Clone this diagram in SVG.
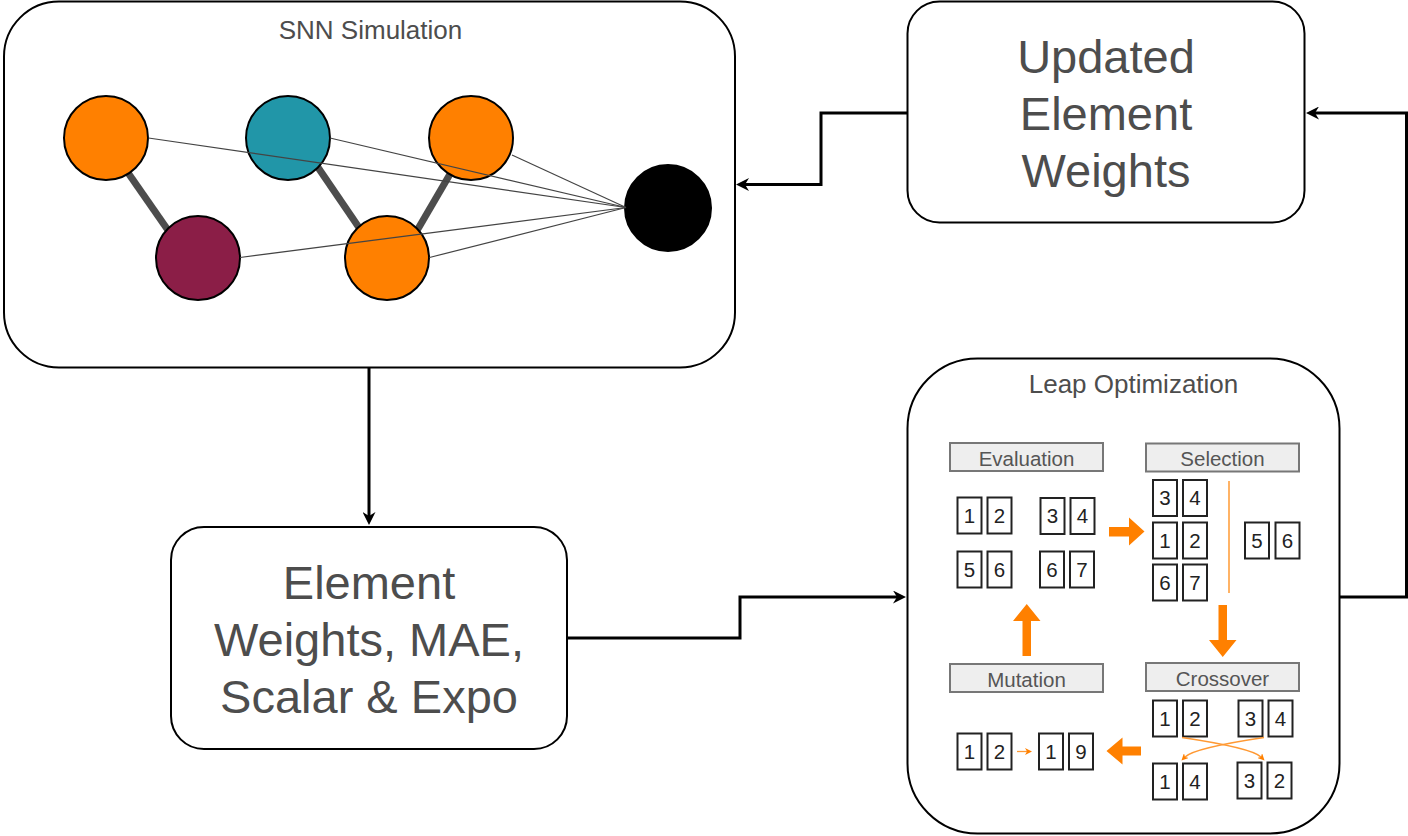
<svg xmlns="http://www.w3.org/2000/svg" width="1408" height="836" viewBox="0 0 1408 836">
  <style>
    .box { fill: #ffffff; stroke: #000000; stroke-width: 2; }
    .title { font-family: "Liberation Sans", Arial, sans-serif; font-size: 26px; fill: #4d4d4d; text-anchor: middle; }
    .big { font-family: "Liberation Sans", Arial, sans-serif; font-size: 47px; fill: #4d4d4d; text-anchor: middle; }
    .conn { fill: none; stroke: #000000; stroke-width: 3; }
    .thin { stroke: #444444; stroke-width: 1.2; }
    .thick { stroke: #4d4d4d; stroke-width: 7; }
    .neuron { stroke: #000000; stroke-width: 2; }
    .stage { fill: #eeeeee; stroke: #777777; stroke-width: 2; }
    .stage-t { font-family: "Liberation Sans", Arial, sans-serif; font-size: 20.5px; fill: #555555; text-anchor: middle; }
    .cell { fill: #ffffff; stroke: #222222; stroke-width: 2; }
    .num { font-family: "Liberation Sans", Arial, sans-serif; font-size: 20.5px; fill: #222222; text-anchor: middle; }
    .flow { fill: #ff8000; }
    .swap { fill: none; stroke: #ff9933; stroke-width: 1.5; }
  </style>
  <defs>
    <marker id="arrow" markerUnits="userSpaceOnUse" viewBox="0 0 13 13" refX="4" refY="6.5" markerWidth="13" markerHeight="13" orient="auto">
      <path d="M0,0 L13,6.5 L0,13 L4,6.5 Z" fill="#000000"/>
    </marker>
    <marker id="small" markerUnits="userSpaceOnUse" viewBox="0 0 7 7" refX="2" refY="3.5" markerWidth="7" markerHeight="7" orient="auto">
      <path d="M0,0 L7,3.5 L0,7 L2,3.5 Z" fill="#ff8000"/>
    </marker>
  </defs>

  <!-- SNN simulation panel -->
  <g id="snn-simulation">
    <rect class="box" x="4" y="1.5" width="731" height="366" rx="55" ry="55"/>
    <text class="title" x="370.5" y="38.5">SNN Simulation</text>
    <g id="snn-thick-links">
      <line class="thick" x1="124" y1="167" x2="172" y2="236"/>
      <line class="thick" x1="315" y1="163" x2="362" y2="232"/>
      <line class="thick" x1="453" y1="169" x2="415" y2="234"/>
    </g>
    <g id="snn-neurons">
      <circle class="neuron" cx="106" cy="138" r="42" fill="#ff8000"/>
      <circle class="neuron" cx="288" cy="138" r="42" fill="#2196a8"/>
      <circle class="neuron" cx="471" cy="138" r="42" fill="#ff8000"/>
      <circle class="neuron" cx="198" cy="258" r="42" fill="#8b1e47"/>
      <circle class="neuron" cx="387" cy="258" r="42" fill="#ff8000"/>
      <circle class="neuron" cx="668" cy="208" r="43" fill="#000000"/>
    </g>
    <g id="snn-thin-links">
      <line class="thin" x1="148.5" y1="138" x2="626" y2="207.5"/>
      <line class="thin" x1="330" y1="138" x2="626" y2="207.5"/>
      <line class="thin" x1="512" y1="155" x2="626" y2="207.5"/>
      <line class="thin" x1="240" y1="257.5" x2="626" y2="207.5"/>
      <line class="thin" x1="429.5" y1="257.5" x2="626" y2="207.5"/>
    </g>
  </g>

  <!-- Updated weights -->
  <g id="updated-weights">
    <rect class="box" x="907.5" y="1.5" width="397" height="221" rx="32" ry="32"/>
    <text class="big" x="1106" y="73">Updated</text>
    <text class="big" x="1106" y="130">Element</text>
    <text class="big" x="1106" y="187">Weights</text>
  </g>

  <!-- Element weights / metrics -->
  <g id="element-weights">
    <rect class="box" x="171" y="527" width="396" height="222" rx="33" ry="33"/>
    <text class="big" x="369" y="599">Element</text>
    <text class="big" x="369" y="656">Weights, MAE,</text>
    <text class="big" x="369" y="713">Scalar &amp; Expo</text>
  </g>

  <!-- Leap optimization panel -->
  <g id="leap-optimization">
    <rect class="box" x="907.5" y="358.5" width="432" height="475" rx="70" ry="70"/>
    <text class="title" x="1133.5" y="393">Leap Optimization</text>

    <g id="stage-evaluation">
      <rect class="stage" x="950" y="443" width="153" height="28"/>
      <text class="stage-t" x="1026.5" y="465.5">Evaluation</text>
      <rect class="cell" x="957.5" y="497.5" width="24" height="36"/><text class="num" x="969.5" y="522.8">1</text>
      <rect class="cell" x="987.5" y="497.5" width="24" height="36"/><text class="num" x="999.5" y="522.8">2</text>
      <rect class="cell" x="1040.5" y="498" width="24" height="36"/><text class="num" x="1052.5" y="523.3">3</text>
      <rect class="cell" x="1070.5" y="498" width="24" height="36"/><text class="num" x="1082.5" y="523.3">4</text>
      <rect class="cell" x="957.5" y="551.5" width="24" height="36"/><text class="num" x="969.5" y="576.8">5</text>
      <rect class="cell" x="987.5" y="551.5" width="24" height="36"/><text class="num" x="999.5" y="576.8">6</text>
      <rect class="cell" x="1040" y="551.5" width="24" height="36"/><text class="num" x="1052" y="576.8">6</text>
      <rect class="cell" x="1070" y="551.5" width="24" height="36"/><text class="num" x="1082" y="576.8">7</text>
    </g>

    <g id="stage-selection">
      <rect class="stage" x="1146" y="443.5" width="153" height="28"/>
      <text class="stage-t" x="1222.5" y="466">Selection</text>
      <rect class="cell" x="1153" y="480" width="24" height="36"/><text class="num" x="1165" y="505.3">3</text>
      <rect class="cell" x="1183" y="480" width="24" height="36"/><text class="num" x="1195" y="505.3">4</text>
      <rect class="cell" x="1153" y="522.5" width="24" height="36"/><text class="num" x="1165" y="547.8">1</text>
      <rect class="cell" x="1183" y="522.5" width="24" height="36"/><text class="num" x="1195" y="547.8">2</text>
      <rect class="cell" x="1153" y="564.5" width="24" height="36"/><text class="num" x="1165" y="589.8">6</text>
      <rect class="cell" x="1183" y="564.5" width="24" height="36"/><text class="num" x="1195" y="589.8">7</text>
      <line x1="1229" y1="481" x2="1229" y2="593" stroke="#ffb366" stroke-width="2"/>
      <rect class="cell" x="1245" y="522.5" width="24" height="36"/><text class="num" x="1257" y="547.8">5</text>
      <rect class="cell" x="1275.5" y="522.5" width="24" height="36"/><text class="num" x="1287.5" y="547.8">6</text>
    </g>

    <g id="stage-mutation">
      <rect class="stage" x="950" y="664" width="153" height="28"/>
      <text class="stage-t" x="1026.5" y="686.5">Mutation</text>
      <rect class="cell" x="957.5" y="733.5" width="24" height="36"/><text class="num" x="969.5" y="758.8">1</text>
      <rect class="cell" x="987.5" y="733.5" width="24" height="36"/><text class="num" x="999.5" y="758.8">2</text>
      <line x1="1017" y1="751.5" x2="1027" y2="751.5" stroke="#ff9933" stroke-width="1.3" marker-end="url(#small)"/>
      <rect class="cell" x="1039" y="733.5" width="24" height="36"/><text class="num" x="1051" y="758.8">1</text>
      <rect class="cell" x="1069" y="733.5" width="24" height="36"/><text class="num" x="1081" y="758.8">9</text>
    </g>

    <g id="stage-crossover">
      <rect class="stage" x="1146" y="663" width="153" height="28"/>
      <text class="stage-t" x="1222.5" y="685.5">Crossover</text>
      <rect class="cell" x="1153" y="700.5" width="24" height="36"/><text class="num" x="1165" y="725.8">1</text>
      <rect class="cell" x="1183" y="700.5" width="24" height="36"/><text class="num" x="1195" y="725.8">2</text>
      <rect class="cell" x="1238.5" y="700.5" width="24" height="36"/><text class="num" x="1250.5" y="725.8">3</text>
      <rect class="cell" x="1268.5" y="700.5" width="24" height="36"/><text class="num" x="1280.5" y="725.8">4</text>
      <path class="swap" d="M1182,737.5 Q1252,748 1261,757" marker-end="url(#small)"/>
      <path class="swap" d="M1264,737.5 Q1194,748 1185,757" marker-end="url(#small)"/>
      <rect class="cell" x="1153" y="763.5" width="24" height="36"/><text class="num" x="1165" y="788.8">1</text>
      <rect class="cell" x="1183" y="763.5" width="24" height="36"/><text class="num" x="1195" y="788.8">4</text>
      <rect class="cell" x="1237.5" y="762.5" width="24" height="36"/><text class="num" x="1249.5" y="787.8">3</text>
      <rect class="cell" x="1267.5" y="762.5" width="24" height="36"/><text class="num" x="1279.5" y="787.8">2</text>
    </g>

    <g id="cycle-arrows">
      <polygon class="flow" points="1109,527 1129,527 1129,517.5 1144.5,531.5 1129,545.5 1129,536.5 1109,536.5"/>
      <polygon class="flow" points="1218.5,605 1227,605 1227,640 1236.5,640 1222.75,657 1209,640 1218.5,640"/>
      <polygon class="flow" points="1141,746.5 1122.5,746.5 1122.5,737.5 1106.5,751 1122.5,764.5 1122.5,755.5 1141,755.5"/>
      <polygon class="flow" points="1022.5,656 1031,656 1031,621 1040.5,621 1026.75,604 1013,621 1022.5,621"/>
    </g>
  </g>

  <!-- Connectors between stages -->
  <g id="connectors">
    <path class="conn" d="M369,368 L369,516" marker-end="url(#arrow)"/>
    <path class="conn" d="M567,638 L740,638 L740,597 L897,597" marker-end="url(#arrow)"/>
    <path class="conn" d="M1340,597 L1406.5,597 L1406.5,113 L1315,113" marker-end="url(#arrow)"/>
    <path class="conn" d="M907,113 L821,113 L821,184.5 L745,184.5" marker-end="url(#arrow)"/>
  </g>
</svg>
